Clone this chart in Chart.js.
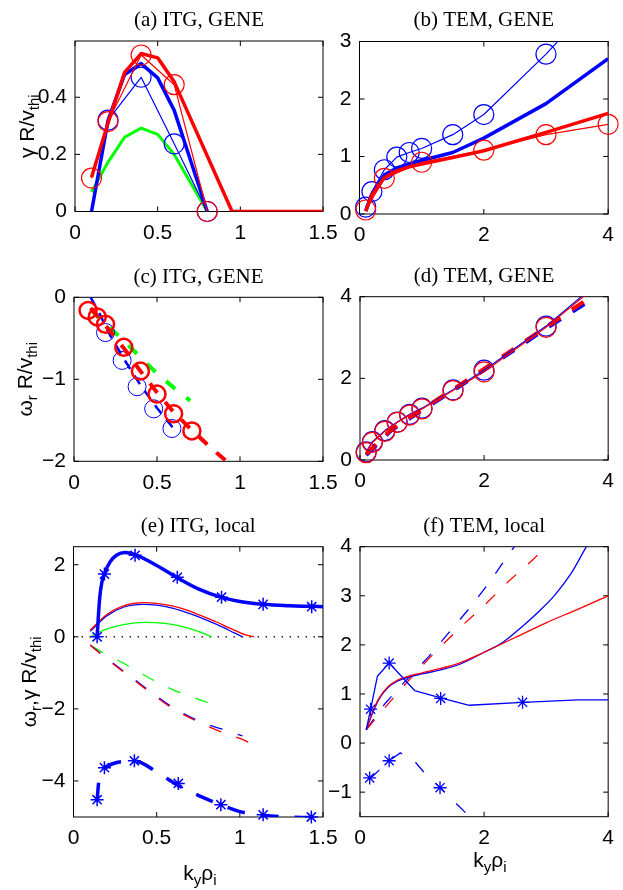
<!DOCTYPE html>
<html>
<head>
<meta charset="utf-8">
<script src="https://cdn.jsdelivr.net/npm/chart.js@4.4.0/dist/chart.umd.min.js"></script>
<style>
  html, body { margin: 0; padding: 0; background: #fff; }
  #wrap { position: relative; width: 623px; height: 890px; }
  #wrap canvas { position: absolute; left: 0; top: 0; }
</style>
</head>
<body>
<div id="wrap">
  <canvas id="pa" width="623" height="890"></canvas>
  <canvas id="pb" width="623" height="890"></canvas>
  <canvas id="pc" width="623" height="890"></canvas>
  <canvas id="pd" width="623" height="890"></canvas>
  <canvas id="pe" width="623" height="890"></canvas>
  <canvas id="pf" width="623" height="890"></canvas>
</div>
<script>
// (a) ITG growth rate, GENE
const aXTicks = [0, 0.5, 1, 1.5];
const aYTicks = [0, 0.2, 0.4];
const aGreenX = [0.1, 0.2, 0.3, 0.4, 0.5, 0.6, 0.8];
const aGreenY = [0.068, 0.173, 0.26, 0.292, 0.27, 0.2, 0];
const aBlueThickX = [0.1, 0.2, 0.3, 0.4, 0.5, 0.6, 0.8];
const aBlueThickY = [0, 0.319, 0.48, 0.518, 0.468, 0.354, 0];
const aBlueCircX = [0.2, 0.4, 0.6, 0.8];
const aBlueCircY = [0.32, 0.47, 0.237, 0];
const aRedThickX = [0.1, 0.2, 0.3, 0.4, 0.5, 0.6, 0.95, 1.5];
const aRedThickY = [0.12, 0.31, 0.487, 0.553, 0.538, 0.454, 0, 0];
const aRedCircX = [0.1, 0.2, 0.4, 0.6, 0.8];
const aRedCircY = [0.117, 0.315, 0.548, 0.444, 0];

// (b) TEM growth rate, GENE
const bXTicks = [0, 2, 4];
const bYTicks = [0, 1, 2, 3];
const bX = [0.1, 0.2, 0.4, 0.6, 0.8, 1.0, 1.5, 2, 3, 4];
const bBlueCircY = [0.12, 0.39, 0.77, 0.99, 1.07, 1.14, 1.38, 1.73, 2.78, 3.95];
const bBlueThickY = [0.05, 0.35, 0.68, 0.8, 0.87, 0.93, 1.07, 1.32, 1.92, 2.7];
const bRedThickY = [0.05, 0.33, 0.63, 0.75, 0.82, 0.87, 0.98, 1.1, 1.42, 1.75];
const bRedCircX = [0.1, 0.4, 1, 2, 3, 4];
const bRedCircY = [0.07, 0.62, 0.9, 1.11, 1.38, 1.56];

// (c) ITG real frequency, GENE
const cXTicks = [0, 0.5, 1, 1.5];
const cYTicks = [-2, -1, 0];
const cGreenX = [0.1, 0.2, 0.3, 0.4, 0.5, 0.6, 0.7];
const cGreenY = [-0.15, -0.34, -0.53, -0.73, -0.93, -1.1, -1.26];
const cBlueX = [0.1, 0.15, 0.2, 0.3, 0.4, 0.5, 0.6];
const cBlueY = [0, -0.18, -0.4, -0.75, -1.07, -1.35, -1.6];
const cBlueCircX = [0.19, 0.29, 0.38, 0.48, 0.59];
const cBlueCircY = [-0.43, -0.77, -1.09, -1.36, -1.6];
const cRedX = [0.1, 0.2, 0.3, 0.4, 0.5, 0.6, 0.7, 0.8, 0.93];
const cRedY = [-0.13, -0.37, -0.62, -0.9, -1.16, -1.4, -1.6, -1.79, -2.02];
const cRedCircX = [0.085, 0.14, 0.19, 0.3, 0.4, 0.5, 0.6, 0.71];
const cRedCircY = [-0.16, -0.24, -0.33, -0.61, -0.9, -1.18, -1.42, -1.63];

// (d) TEM real frequency, GENE
const dXTicks = [0, 2, 4];
const dYTicks = [0, 2, 4];
const dX = [0.1, 0.2, 0.4, 0.6, 0.8, 1.0, 1.5, 2, 3, 4];
const dBlueY = [0.2, 0.45, 0.72, 0.93, 1.12, 1.27, 1.72, 2.2, 3.28, 4.55];
const dRedY = [0.18, 0.43, 0.7, 0.92, 1.1, 1.25, 1.7, 2.16, 3.25, 4.5];
const dDashX = [0.1, 0.5, 1, 1.5, 2, 3, 3.65];
const dBlueDashY = [0.12, 0.72, 1.22, 1.7, 2.2, 3.22, 3.85];
const dRedDashY = [0.14, 0.74, 1.24, 1.73, 2.23, 3.26, 3.92];

// (e) ITG, local model
const eXTicks = [0, 0.5, 1, 1.5];
const eYTicks = [-4, -2, 0, 2];
const eGamX = [0.142, 0.15, 0.158, 0.17, 0.186, 0.22, 0.26, 0.31, 0.37, 0.5, 0.62, 0.75, 0.886, 1.0, 1.14, 1.3, 1.43, 1.5];
const eGamY = [0, 0.6, 1.1, 1.5, 1.75, 2.08, 2.27, 2.34, 2.28, 1.98, 1.65, 1.33, 1.1, 0.98, 0.9, 0.86, 0.845, 0.835];
const eGamStarX = [0.142, 0.186, 0.37, 0.624, 0.89, 1.14, 1.432];
const eGamStarY = [0, 1.74, 2.26, 1.65, 1.1, 0.9, 0.835];
const eRedX = [0.1, 0.2, 0.3, 0.42, 0.5, 0.6, 0.7, 0.76, 0.86, 0.95, 1.03, 1.086];
const eRedY = [0.18, 0.62, 0.86, 0.95, 0.93, 0.85, 0.71, 0.6, 0.41, 0.22, 0.06, 0];
const eBlueX = [0.1, 0.2, 0.3, 0.42, 0.5, 0.6, 0.7, 0.8, 0.9, 0.97, 1.016];
const eBlueY = [0.15, 0.58, 0.82, 0.9, 0.88, 0.79, 0.64, 0.46, 0.26, 0.1, 0];
const eGreenX = [0.11, 0.2, 0.3, 0.43, 0.55, 0.65, 0.75, 0.83];
const eGreenY = [0.03, 0.22, 0.34, 0.4, 0.37, 0.29, 0.15, 0];
const eRedDashX = [0.1, 0.2, 0.3, 0.4, 0.5, 0.6, 0.7, 0.8, 0.9, 1.0, 1.086];
const eRedDashY = [-0.23, -0.62, -0.97, -1.33, -1.68, -2.0, -2.25, -2.47, -2.66, -2.82, -3.0];
const eBlueDashX = [0.1, 0.2, 0.3, 0.4, 0.5, 0.6, 0.7, 0.8, 0.9, 1.016];
const eBlueDashY = [-0.23, -0.6, -0.95, -1.3, -1.65, -1.97, -2.22, -2.42, -2.57, -2.75];
const eGreenDashX = [0.11, 0.2, 0.3, 0.4, 0.5, 0.6, 0.7, 0.83];
const eGreenDashY = [-0.26, -0.5, -0.73, -1.0, -1.25, -1.47, -1.65, -1.86];
const eOmX = [0.142, 0.15, 0.16, 0.186, 0.25, 0.37, 0.5, 0.62, 0.75, 0.886, 1.0, 1.14, 1.3, 1.5];
const eOmY = [-4.55, -4.1, -3.85, -3.66, -3.5, -3.45, -3.75, -4.1, -4.4, -4.66, -4.85, -4.95, -5.0, -5.02];
const eOmStarX = [0.142, 0.186, 0.366, 0.63, 0.886, 1.14, 1.43];
const eOmStarY = [-4.52, -3.63, -3.44, -4.07, -4.66, -4.94, -5.0];
const eZeroX = [0, 1.5];
const eZeroY = [0, 0];

// (f) TEM, local model
const fXTicks = [0, 2, 4];
const fYTicks = [-1, 0, 1, 2, 3, 4];
const fGamX = [0.1, 0.17, 0.28, 0.47, 0.88, 1.3, 1.76, 2.62, 3.52, 4];
const fGamY = [0.27, 0.68, 1.36, 1.63, 1.07, 0.92, 0.77, 0.83, 0.88, 0.88];
const fGamStarX = [0.17, 0.47, 1.3, 2.62];
const fGamStarY = [0.69, 1.63, 0.91, 0.83];
const fRedX = [0.1, 0.2, 0.3, 0.45, 0.6, 0.8, 1.0, 1.3, 1.6, 2.0, 2.5, 3.0, 3.5, 4];
const fRedY = [0.27, 0.62, 0.9, 1.15, 1.28, 1.37, 1.43, 1.52, 1.63, 1.85, 2.15, 2.45, 2.72, 3.0];
const fBlueX = [0.1, 0.2, 0.3, 0.45, 0.6, 0.8, 1.0, 1.3, 1.6, 2.0, 2.3, 2.63, 2.9, 3.15, 3.4, 3.65, 3.8];
const fBlueY = [0.27, 0.6, 0.88, 1.13, 1.26, 1.35, 1.41, 1.49, 1.6, 1.85, 2.05, 2.39, 2.7, 3.03, 3.45, 4.0, 4.3];
const fRedDashX = [0.1, 0.4, 0.8, 1.2, 1.6, 2.0, 2.4, 2.8, 3.0, 3.3];
const fRedDashY = [0.27, 0.72, 1.3, 1.84, 2.34, 2.8, 3.3, 3.75, 4.0, 4.35];
const fBlueDashX = [0.1, 0.4, 0.7, 1.1, 1.5, 1.8, 2.1, 2.4, 2.6];
const fBlueDashY = [0.27, 0.8, 1.22, 1.75, 2.35, 2.8, 3.3, 3.85, 4.2];
const fOmX = [0.156, 0.2, 0.47, 0.65, 0.86, 1.02, 1.3, 1.75, 2.0];
const fOmY = [-0.72, -0.68, -0.36, -0.2, -0.34, -0.58, -0.92, -1.48, -1.8];
const fOmStarX = [0.156, 0.47, 1.29];
const fOmStarY = [-0.71, -0.36, -0.91];

const SANS = '"Liberation Sans", Arial, Helvetica, sans-serif';
const SERIF = '"Liberation Serif", "Times New Roman", serif';
const BLUE = '#0000ff', RED = '#ff0000', GREEN = '#00ff00';

function pts(xs, ys) {
    return xs.map((x, i) => ({ x: x, y: ys[i] }));
}

function curve(xs, ys, color, width, dash, smooth) {
    return {
        data: pts(xs, ys),
        showLine: true,
        fill: false,
        borderColor: color,
        borderWidth: width,
        borderDash: dash || [],
        borderJoinStyle: 'round',
        pointRadius: 0,
        tension: 0,
        cubicInterpolationMode: smooth ? 'monotone' : 'default'
    };
}

function marks(xs, ys, color, style, radius, width) {
    return {
        data: pts(xs, ys),
        showLine: false,
        clip: false,
        pointStyle: style,
        pointRadius: radius,
        pointBorderColor: color,
        pointBorderWidth: width,
        pointBackgroundColor: 'rgba(0,0,0,0)',
        borderColor: color,
        backgroundColor: 'rgba(0,0,0,0)'
    };
}

// draws text with subscripts, centred on cx, main baseline at by
function drawRich(ctx, parts, cx, by) {
    const main = '21px ' + SANS, sub = '15px ' + SANS;
    let w = 0;
    parts.forEach(p => { ctx.font = p.sub ? sub : main; w += ctx.measureText(p.t).width; });
    let x = cx - w / 2;
    ctx.textAlign = 'left';
    ctx.textBaseline = 'alphabetic';
    parts.forEach(p => {
        ctx.font = p.sub ? sub : main;
        ctx.fillText(p.t, x, by + (p.sub ? 5 : 0));
        x += ctx.measureText(p.t).width;
    });
}

const panelPlugin = {
    id: 'panel',
    beforeDatasetsDraw(chart) {
        const { ctx, chartArea: a, scales: { x, y } } = chart;
        ctx.save();
        ctx.strokeStyle = '#000';
        ctx.lineWidth = 1;
        ctx.strokeRect(a.left, a.top, a.right - a.left, a.bottom - a.top);
        ctx.beginPath();
        x.ticks.forEach(t => {
            const px = x.getPixelForValue(t.value);
            ctx.moveTo(px, a.bottom); ctx.lineTo(px, a.bottom - 5);
            ctx.moveTo(px, a.top); ctx.lineTo(px, a.top + 5);
        });
        y.ticks.forEach(t => {
            const py = y.getPixelForValue(t.value);
            ctx.moveTo(a.left, py); ctx.lineTo(a.left + 5, py);
            ctx.moveTo(a.right, py); ctx.lineTo(a.right - 5, py);
        });
        ctx.stroke();
        ctx.restore();
    },
    afterDraw(chart, args, o) {
        const { ctx, chartArea: a } = chart;
        ctx.save();
        ctx.fillStyle = '#000';
        ctx.font = '21px ' + SERIF;
        ctx.textAlign = 'center';
        ctx.textBaseline = 'alphabetic';
        ctx.fillText(o.title, (a.left + a.right) / 2, o.titleY);
        if (o.ylab) {
            ctx.save();
            ctx.translate(o.ylabX, (a.top + a.bottom) / 2);
            ctx.rotate(-Math.PI / 2);
            drawRich(ctx, o.ylab, 0, 0);
            ctx.restore();
        }
        if (o.xlab) {
            drawRich(ctx, o.xlab, o.xlabX, o.xlabY);
        }
        ctx.restore();
    }
};

function axis(range, ticks, dir) {
    return {
        type: 'linear',
        min: range[0],
        max: range[1],
        grid: { display: false, drawTicks: false },
        border: { display: false },
        afterBuildTicks: s => { s.ticks = ticks.map(v => ({ value: v })); },
        afterFit: s => { if (dir === 'x') s.height = 40; else s.width = 60; },
        ticks: {
            autoSkip: false,
            maxRotation: 0,
            padding: dir === 'x' ? 9 : 8,
            color: '#000',
            font: { family: SANS, size: 21 },
            callback: v => String(v).replace('-', '\u2212')
        }
    };
}

function makeChart(id, p) {
    const box = p.box;
    p.sets.forEach(d => {
        if (d.clip === false) {
            d.data = d.data.filter(q => q.x >= p.xr[0] && q.x <= p.xr[1] && q.y >= p.yr[0] && q.y <= p.yr[1]);
        }
    });
    return new Chart(document.getElementById(id), {
        type: 'scatter',
        data: { datasets: p.sets },
        options: {
            responsive: false,
            animation: false,
            devicePixelRatio: 1,
            events: [],
            layout: { padding: { left: box[0] - 60, top: box[1], right: 623 - box[2], bottom: 890 - box[3] - 40 } },
            plugins: { legend: { display: false }, tooltip: { enabled: false }, panel: p.text },
            scales: { x: axis(p.xr, p.xTicks, 'x'), y: axis(p.yr, p.yTicks, 'y') }
        },
        plugins: [panelPlugin]
    });
}

const yGamma = [{ t: '\u03b3 R/v' }, { t: 'thi', sub: true }];
const yOmega = [{ t: '\u03c9' }, { t: 'r', sub: true }, { t: ' R/v' }, { t: 'thi', sub: true }];
const yBoth = [{ t: '\u03c9' }, { t: 'r', sub: true }, { t: ',\u03b3 R/v' }, { t: 'thi', sub: true }];
const xKy = [{ t: 'k' }, { t: 'y', sub: true }, { t: '\u03c1' }, { t: 'i', sub: true }];

makeChart('pa', {
    box: [75, 41, 323, 211.5], xr: [0, 1.5], yr: [0, 0.597], xTicks: aXTicks, yTicks: aYTicks,
    text: { title: '(a) ITG, GENE', titleY: 26, ylab: yGamma, ylabX: 34 },
    sets: [
        curve(aRedThickX, aRedThickY, RED, 3.5),
        curve(aRedCircX, aRedCircY, RED, 1.2),
        marks(aRedCircX, aRedCircY, RED, 'circle', 10, 1.2),
        curve(aBlueThickX, aBlueThickY, BLUE, 3.5),
        curve(aBlueCircX, aBlueCircY, BLUE, 1.2),
        marks(aBlueCircX, aBlueCircY, BLUE, 'circle', 10, 1.2),
        curve(aGreenX, aGreenY, GREEN, 3)
    ]
});

makeChart('pb', {
    box: [359.5, 41.5, 615.5, 214], xr: [0, 4], yr: [0, 3], xTicks: bXTicks, yTicks: bYTicks,
    text: { title: '(b) TEM, GENE', titleY: 26 },
    sets: [
        curve(bX, bRedThickY, RED, 3.5),
        curve(bRedCircX, bRedCircY, RED, 1.2),
        marks(bRedCircX, bRedCircY, RED, 'circle', 10, 1.2),
        curve(bX, bBlueThickY, BLUE, 3.5),
        curve(bX, bBlueCircY, BLUE, 1.2),
        marks(bX, bBlueCircY, BLUE, 'circle', 10, 1.2)
    ]
});

makeChart('pc', {
    box: [74, 297.3, 323, 461.3], xr: [0, 1.5], yr: [-2, 0], xTicks: cXTicks, yTicks: cYTicks,
    text: { title: '(c) ITG, GENE', titleY: 283, ylab: yOmega, ylabX: 32 },
    sets: [
        marks(cRedCircX, cRedCircY, RED, 'circle', 8.5, 2.5),
        curve(cRedX, cRedY, RED, 4, [12, 12]),
        marks(cBlueCircX, cBlueCircY, BLUE, 'circle', 9, 1),
        curve(cBlueX, cBlueY, BLUE, 2.5, [10, 8]),
        curve(cGreenX, cGreenY, GREEN, 4, [12, 14])
    ]
});

makeChart('pd', {
    box: [360, 296.7, 615.5, 460], xr: [0, 4], yr: [0, 4], xTicks: dXTicks, yTicks: dYTicks,
    text: { title: '(d) TEM, GENE', titleY: 282 },
    sets: [
        marks(dX, dRedY, RED, 'circle', 10, 1.2),
        curve(dX, dRedY, RED, 1.2),
        marks(dX, dBlueY, BLUE, 'circle', 10, 1.2),
        curve(dX, dBlueY, BLUE, 1.2),
        curve(dDashX, dRedDashY, RED, 4, [14, 14]),
        curve(dDashX, dBlueDashY, BLUE, 4, [14, 14])
    ]
});

makeChart('pe', {
    box: [73.5, 546.7, 323, 817], xr: [0, 1.5], yr: [-5, 2.5], xTicks: eXTicks, yTicks: eYTicks,
    text: { title: '(e) ITG, local', titleY: 532, ylab: yBoth, ylabX: 36, xlab: xKy, xlabX: 200, xlabY: 880 },
    sets: [
        marks(eGamStarX, eGamStarY, BLUE, 'star', 6.5, 1.5),
        curve(eGamX, eGamY, BLUE, 3.5, null, true),
        curve(eRedX, eRedY, RED, 1.3, null, true),
        curve(eBlueX, eBlueY, BLUE, 1.3, null, true),
        curve(eGreenX, eGreenY, GREEN, 1.3, null, true),
        curve(eRedDashX, eRedDashY, RED, 1.3, [13, 16], true),
        curve(eBlueDashX, eBlueDashY, BLUE, 1.3, [13, 16], true),
        curve(eGreenDashX, eGreenDashY, GREEN, 1.3, [13, 16], true),
        marks(eOmStarX, eOmStarY, BLUE, 'star', 6.5, 1.5),
        curve(eOmX, eOmY, BLUE, 3.5, [18, 16], true),
        curve(eZeroX, eZeroY, '#000', 1.2, [1.5, 6.5])
    ]
});

makeChart('pf', {
    box: [360, 546.7, 615.5, 816.7], xr: [0, 4], yr: [-1.5, 4], xTicks: fXTicks, yTicks: fYTicks,
    text: { title: '(f) TEM, local', titleY: 532, xlab: xKy, xlabX: 490, xlabY: 867 },
    sets: [
        marks(fGamStarX, fGamStarY, BLUE, 'star', 6.5, 1.3),
        curve(fGamX, fGamY, BLUE, 1.3),
        curve(fRedX, fRedY, RED, 1.3, null, true),
        curve(fBlueX, fBlueY, BLUE, 1.3, null, true),
        curve(fRedDashX, fRedDashY, RED, 1.3, [13, 16]),
        curve(fBlueDashX, fBlueDashY, BLUE, 1.3, [13, 16]),
        marks(fOmStarX, fOmStarY, BLUE, 'star', 6.5, 1.3),
        curve(fOmX, fOmY, BLUE, 1.3, [13, 16])
    ]
});
</script>
</body>
</html>
